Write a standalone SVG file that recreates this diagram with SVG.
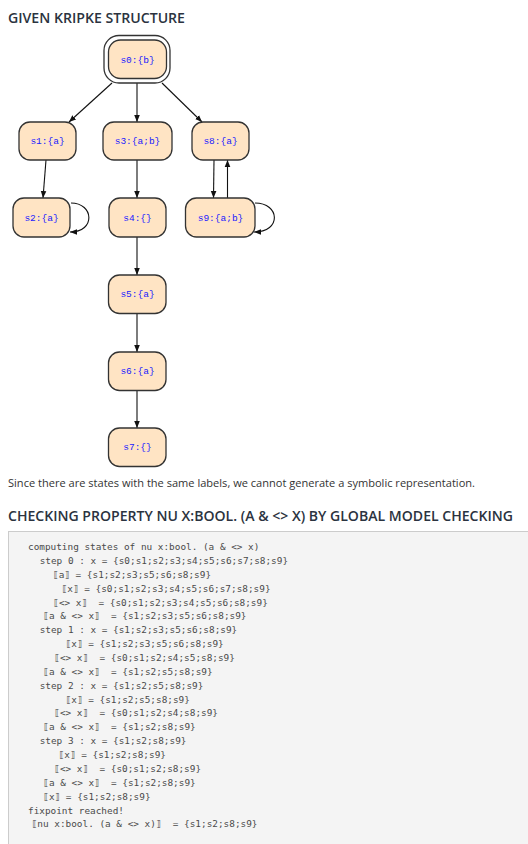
<svg xmlns="http://www.w3.org/2000/svg" width="528" height="844" viewBox="0 0 528 844">
<style>
.h{font-family:"Open Sans","Liberation Sans",sans-serif;font-weight:600;font-size:14.5px;fill:#2b3340}
.p{font-family:"Open Sans","Liberation Sans",sans-serif;font-size:10.5px;fill:#333}
.n rect{fill:#ffe4c4;stroke:#333;stroke-width:1.3}
.n text{font-family:"Liberation Mono","Courier New",monospace;font-size:9.5px;fill:#2020ff;text-anchor:middle}
.e{stroke:#111;stroke-width:1.1;fill:none;marker-end:url(#ah)}
.c{font-family:"DejaVu Sans Mono","Liberation Mono",monospace;font-size:9.4px;fill:#4a4a4a;white-space:pre;font-variant-ligatures:none;font-feature-settings:"liga" 0,"calt" 0,"kern" 0}
</style>
<defs>
<marker id="ah" viewBox="0 0 10 10" refX="10" refY="5" markerWidth="7" markerHeight="7" orient="auto" markerUnits="userSpaceOnUse">
<path d="M0,1 L10,5 L0,9 z" fill="#111"/>
</marker>
</defs>
<rect width="528" height="844" fill="#fff"/>
<text class="h" x="8" y="22.5" textLength="177" lengthAdjust="spacingAndGlyphs">GIVEN KRIPKE STRUCTURE</text>

<g id="connectors">
<line class="e" x1="112" y1="83" x2="69" y2="122"/>
<line class="e" x1="137" y1="83" x2="137" y2="122"/>
<line class="e" x1="162" y1="83" x2="202" y2="122"/>
<line class="e" x1="46" y1="160" x2="43" y2="198"/>
<line class="e" x1="137" y1="160" x2="137" y2="198"/>
<line class="e" x1="214" y1="160" x2="213.5" y2="198"/>
<line class="e" x1="227.5" y1="198" x2="227.5" y2="160"/>
<path class="e" d="M71,203 C94,203 96,232 70,232"/>
<path class="e" d="M255,203 C280,203 282,232 254,232"/>
<line class="e" x1="137" y1="237" x2="137" y2="275"/>
<line class="e" x1="137" y1="313" x2="137" y2="352"/>
<line class="e" x1="137" y1="390" x2="137" y2="428"/>
</g>

<g id="s0" class="n">
<rect x="104" y="35.5" width="66" height="47.5" rx="15" style="fill:#fff"/>
<rect x="108.5" y="40" width="58" height="38.5" rx="12"/>
<text x="137.5" y="62.5">s0:{b}</text>
</g>
<g id="s1" class="n"><rect x="19" y="122" width="57" height="38" rx="11"/><text x="47.5" y="144">s1:{a}</text></g>
<g id="s3" class="n"><rect x="103" y="122" width="69" height="38" rx="11"/><text x="137.5" y="144">s3:{a;b}</text></g>
<g id="s8" class="n"><rect x="192" y="122" width="57" height="38" rx="11"/><text x="220.5" y="144">s8:{a}</text></g>
<g id="s2" class="n"><rect x="13" y="198" width="57" height="39" rx="11"/><text x="41.5" y="220.5">s2:{a}</text></g>
<g id="s4" class="n"><rect x="109" y="198" width="57" height="39" rx="11"/><text x="137.5" y="220.5">s4:{}</text></g>
<g id="s9" class="n"><rect x="185.5" y="198" width="69.5" height="39" rx="11"/><text x="220.5" y="220.5">s9:{a;b}</text></g>
<g id="s5" class="n"><rect x="108.5" y="275" width="57.5" height="38.5" rx="11"/><text x="137.5" y="297">s5:{a}</text></g>
<g id="s6" class="n"><rect x="108.5" y="352" width="57.5" height="38.5" rx="11"/><text x="137.5" y="374">s6:{a}</text></g>
<g id="s7" class="n"><rect x="108.5" y="428" width="57.5" height="38.5" rx="11"/><text x="137.5" y="450">s7:{}</text></g>

<text class="p" x="8" y="487" textLength="467" lengthAdjust="spacingAndGlyphs">Since there are states with the same labels, we cannot generate a symbolic representation.</text>
<text class="h" x="8" y="521" textLength="505" lengthAdjust="spacingAndGlyphs">CHECKING PROPERTY NU X:BOOL. (A &amp; &lt;&gt; X) BY GLOBAL MODEL CHECKING</text>

<rect x="8.5" y="531.5" width="530" height="320" fill="#f4f4f4" stroke="#ccc" stroke-width="1"/>
<g class="c" xml:space="preserve">
<text x="28" y="550">computing states of nu x:bool. (a &amp; &lt;&gt; x)</text>
<text x="39.7" y="563.9">step 0 : x = {s0;s1;s2;s3;s4;s5;s6;s7;s8;s9}</text>
<text x="53" y="577.7">⟦a⟧ = {s1;s2;s3;s5;s6;s8;s9}</text>
<text x="61.7" y="591.6">⟦x⟧ = {s0;s1;s2;s3;s4;s5;s6;s7;s8;s9}</text>
<text x="53.3" y="605.5">⟦&lt;&gt; x⟧&#160; = {s0;s1;s2;s3;s4;s5;s6;s8;s9}</text>
<text x="43.3" y="619.4">⟦a &amp; &lt;&gt; x⟧&#160; = {s1;s2;s3;s5;s6;s8;s9}</text>
<text x="39.7" y="633.2">step 1 : x = {s1;s2;s3;s5;s6;s8;s9}</text>
<text x="65.7" y="647.1">⟦x⟧ = {s1;s2;s3;s5;s6;s8;s9}</text>
<text x="54.3" y="661">⟦&lt;&gt; x⟧&#160; = {s0;s1;s2;s4;s5;s8;s9}</text>
<text x="43.3" y="674.8">⟦a &amp; &lt;&gt; x⟧&#160; = {s1;s2;s5;s8;s9}</text>
<text x="39.7" y="688.7">step 2 : x = {s1;s2;s5;s8;s9}</text>
<text x="65.7" y="702.6">⟦x⟧ = {s1;s2;s5;s8;s9}</text>
<text x="54.3" y="716.4">⟦&lt;&gt; x⟧&#160; = {s0;s1;s2;s4;s8;s9}</text>
<text x="43.3" y="730.3">⟦a &amp; &lt;&gt; x⟧&#160; = {s1;s2;s8;s9}</text>
<text x="39.7" y="744.2">step 3 : x = {s1;s2;s8;s9}</text>
<text x="58.7" y="758">⟦x⟧ = {s1;s2;s8;s9}</text>
<text x="54.3" y="771.9">⟦&lt;&gt; x⟧&#160; = {s0;s1;s2;s8;s9}</text>
<text x="43.3" y="785.8">⟦a &amp; &lt;&gt; x⟧&#160; = {s1;s2;s8;s9}</text>
<text x="43.3" y="799.7">⟦x⟧ = {s1;s2;s8;s9}</text>
<text x="28" y="813.5">fixpoint reached!</text>
<text x="31.7" y="827.4">⟦nu x:bool. (a &amp; &lt;&gt; x)⟧&#160; = {s1;s2;s8;s9}</text>
</g>
</svg>
